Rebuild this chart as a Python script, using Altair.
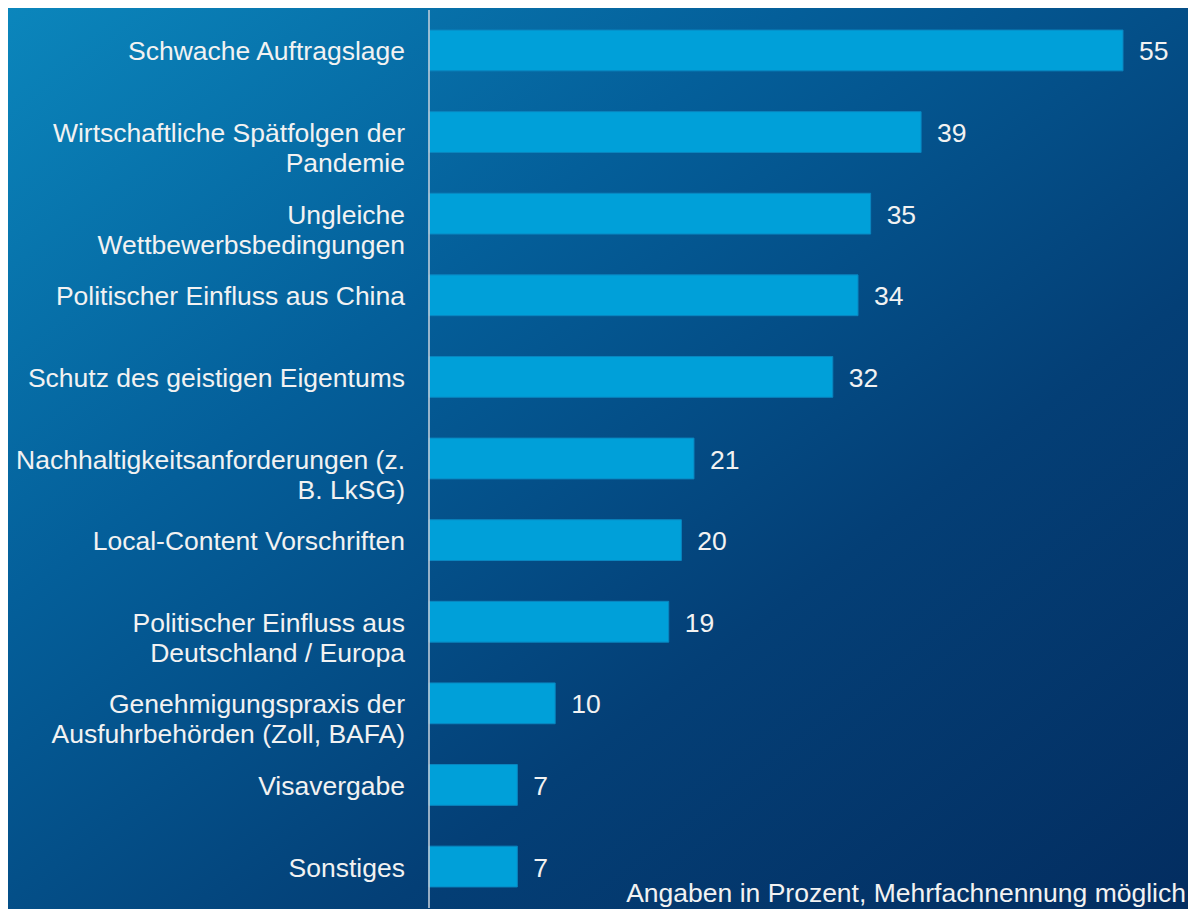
import altair as alt
import pandas as pd

categories = [
    "Schwache Auftragslage",
    "Wirtschaftliche Spätfolgen der\nPandemie",
    "Ungleiche\nWettbewerbsbedingungen",
    "Politischer Einfluss aus China",
    "Schutz des geistigen Eigentums",
    "Nachhaltigkeitsanforderungen (z.\nB. LkSG)",
    "Local-Content Vorschriften",
    "Politischer Einfluss aus\nDeutschland / Europa",
    "Genehmigungspraxis der\nAusfuhrbehörden (Zoll, BAFA)",
    "Visavergabe",
    "Sonstiges",
]
values = [55, 39, 35, 34, 32, 21, 20, 19, 10, 7, 7]
footnote = "Angaben in Prozent, Mehrfachnennung möglich"

W, H = 1180, 901
FONT = "Liberation Sans"
FS = 26.5

# x scale: zero sits at 421px, 55 at 1115px
zero_px, max_px, max_val = 421.0, 1115.0, 55.0
ppu = (max_px - zero_px) / max_val
x_domain = [-zero_px / ppu, (W - zero_px) / ppu]

df = pd.DataFrame({"cat": categories, "val": values})

x_enc = alt.X("val:Q", scale=alt.Scale(domain=x_domain, nice=False, zero=False), axis=None)
y_enc = alt.Y("cat:N", sort=categories,
              scale=alt.Scale(paddingInner=0.5, paddingOuter=0.27), axis=None)

bg = alt.Chart(pd.DataFrame({"a": [0]})).mark_rect(
    color=alt.LinearGradient(
        gradient="linear", x1=0, y1=0, x2=1, y2=1,
        stops=[
            alt.GradientStop(color="#0b86bc", offset=0),
            alt.GradientStop(color="#045f9a", offset=0.33),
            alt.GradientStop(color="#043f76", offset=0.66),
            alt.GradientStop(color="#032d60", offset=1),
        ],
    )
).encode(x=alt.value(0), x2=alt.value(W), y=alt.value(0), y2=alt.value(H))

base = alt.Chart(df)

bars = base.mark_bar(color="#00a0d9", stroke="#0a86c0", strokeWidth=1).encode(
    x=x_enc, x2=alt.datum(0), y=y_enc
)

vals = base.mark_text(align="left", baseline="middle", dx=16, dy=2, font=FONT,
                      fontSize=FS, color="#f2f2f2").encode(
    x=x_enc, y=y_enc, text="val:Q"
)

labels = base.mark_text(align="right", baseline="middle", dy=2, font=FONT, fontSize=FS,
                        color="#f2f2f2", lineBreak="\n", lineHeight=30).encode(
    x=alt.value(397), y=y_enc, text="cat:N"
)

axis_line = alt.Chart(pd.DataFrame({"a": [0]})).mark_rule(
    color="#c9d3de", strokeWidth=1.5
).encode(x=alt.value(zero_px), y=alt.value(2), y2=alt.value(900))

note = alt.Chart(pd.DataFrame({"t": [footnote]})).mark_text(
    align="right", baseline="alphabetic", font=FONT, fontSize=FS, color="#f2f2f2"
).encode(x=alt.value(W - 2), y=alt.value(894), text="t:N")

chart = alt.layer(bg, bars, axis_line, vals, labels, note).properties(
    width=W, height=H, padding=0,
    autosize=alt.AutoSizeParams(type="none"),
    background="#0a5a92",
).configure_view(stroke=None)

chart.save("out.html", embed_options={"renderer": "svg", "actions": False})
